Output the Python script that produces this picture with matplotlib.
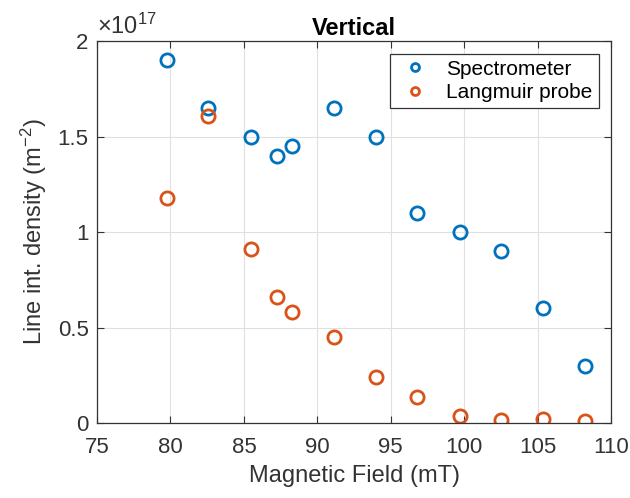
import numpy as np
import matplotlib
matplotlib.use('Agg')
import matplotlib.pyplot as plt
from matplotlib.ticker import FuncFormatter

plt.rcParams['font.family'] = ['Liberation Sans', 'DejaVu Sans']
plt.rcParams['mathtext.fontset'] = 'custom'
plt.rcParams['mathtext.rm'] = 'Liberation Sans'
plt.rcParams['mathtext.it'] = 'Liberation Sans'

# Magnetic field (mT)
field = [79.75, 82.58, 85.45, 87.24, 88.28, 91.11, 93.99, 96.81, 99.69, 102.49, 105.39, 108.2]
# Line integrated density (m^-2)
spectrometer = np.array([1.90, 1.65, 1.50, 1.40, 1.45, 1.65, 1.50, 1.10, 1.00, 0.90, 0.60, 0.30]) * 1e17
langmuir = np.array([1.18, 1.606, 0.91, 0.66, 0.58, 0.45, 0.242, 0.134, 0.038, 0.016, 0.019, 0.009]) * 1e17

blue = '#0072BD'
orange = '#D95319'
dark = '#333333'

fig = plt.figure(figsize=(6.3, 4.98), dpi=100)
ax = fig.add_axes([0.154, 0.1506, 0.816, 0.767])

ax.plot(field, spectrometer, 'o', mfc='none', mec=blue, ms=9.5, mew=2.0, label='Spectrometer')
ax.plot(field, langmuir, 'o', mfc='none', mec=orange, ms=9.5, mew=2.0, label='Langmuir probe')

ax.set_xlim(75, 110)
ax.set_ylim(0, 2e17)
ax.set_xticks(np.arange(75, 111, 5))
ax.set_yticks(np.arange(0, 2.01e17, 0.5e17))
ax.yaxis.set_major_formatter(FuncFormatter(lambda v, p: f'{v / 1e17:g}'))

ax.grid(True, color='#e0e0e0', linewidth=0.8)
ax.set_axisbelow(True)
ax.tick_params(direction='in', top=True, right=True, length=5, width=0.8,
               labelsize=16, colors=dark, pad=6)
ax.tick_params(axis='x', pad=10)
for s in ax.spines.values():
    s.set_color(dark)
    s.set_linewidth(0.9)

ax.set_xlabel('Magnetic Field (mT)', fontsize=17, color=dark, labelpad=5)
ax.set_ylabel('Line int. density (m$^{-2}$)', fontsize=17, color=dark, labelpad=6)
ax.set_title('Vertical', fontsize=17, fontweight='bold', pad=4)
ax.text(0.0, 1.005, r'$\times10^{17}$', transform=ax.transAxes, fontsize=17,
        color=dark, ha='left', va='bottom')

leg = ax.legend(loc='upper right', fontsize=15, markerscale=0.6, handletextpad=0.6,
                borderaxespad=0.6, fancybox=False, framealpha=1, edgecolor=dark,
                labelspacing=0.2, handlelength=1.8, borderpad=0.3)
leg.get_frame().set_linewidth(0.9)

fig.savefig('out.png', dpi=100)
